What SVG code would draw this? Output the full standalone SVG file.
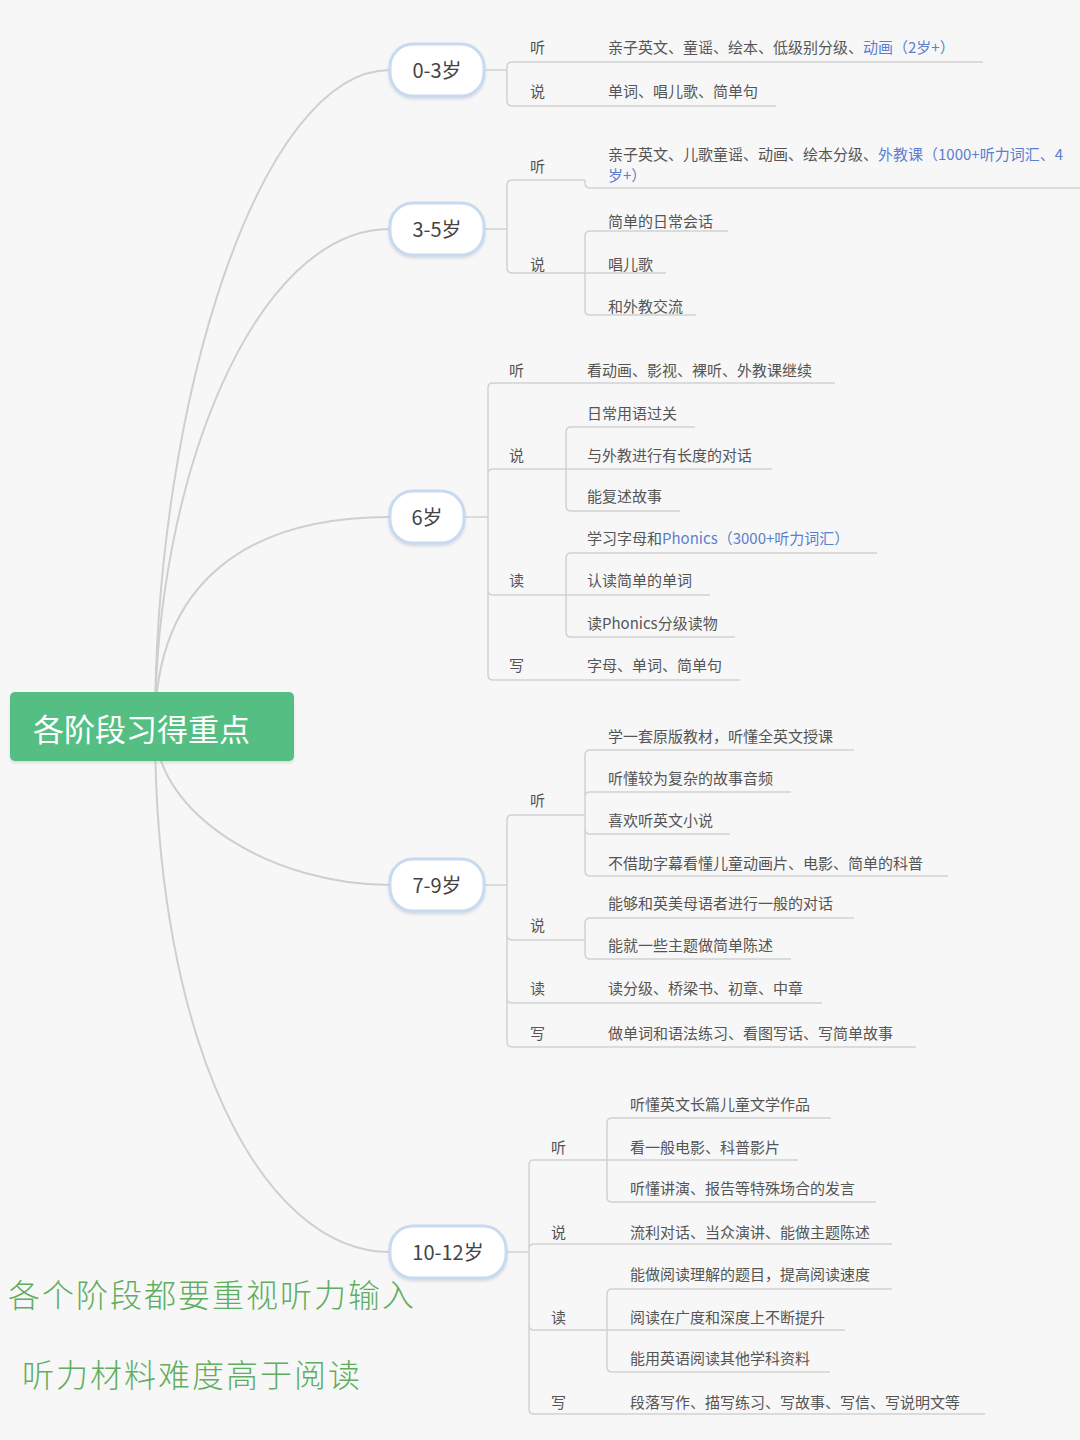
<svg xmlns="http://www.w3.org/2000/svg" width="1080" height="1440" viewBox="0 0 1080 1440">
<style>
text{font-family:"Noto Sans CJK SC","Noto Sans",sans-serif;dominant-baseline:central}
.t{font-size:15px;fill:#555}
.b{fill:#5a7fd0}
.age{font-size:20px;fill:#444;text-anchor:middle}
.root{font-size:31px;fill:#fff}
.hand{font-size:32px;fill:#5fae5f;letter-spacing:2px;font-weight:300}
.box{fill:#fff;stroke:#c8daf0;stroke-width:3}
.c1{fill:none;stroke:#cfcfcf;stroke-width:2}
.c2{fill:none;stroke:#d2d2d2;stroke-width:1.5}
</style>
<defs>
<filter id="sh" x="-20%" y="-20%" width="140%" height="150%">
<feDropShadow dx="0" dy="2" stdDeviation="1.5" flood-color="#9aa9bb" flood-opacity="0.35"/>
</filter>
</defs>
<rect width="1080" height="1440" fill="#f7f7f7"/>

<g id="connectors">
<path class="c1" d="M155,727 C155,398 261,70 390,70"/>
<path class="c1" d="M155,727 C155,478 255,229 390,229"/>
<path class="c1" d="M155,727 C155,580 250,517 390,517"/>
<path class="c1" d="M155,727 C155,814 272,885 390,885"/>
<path class="c1" d="M155,727 C155,1042 261,1252 390,1252"/>

<path class="c2" d="M484,70 H507 M507,70 V67 Q507,62 512,62 H585 M507,70 V101 Q507,106 512,106 H585"/>
<path class="c2" d="M585,62 H983 M585,106 H776"/>

<path class="c2" d="M484,229 H507 M507,229 V185 Q507,180 512,180 H585 M507,229 V268 Q507,273 512,273 H585"/>
<path class="c2" d="M585,180 V183 Q585,188 590,188 H1080 M585,273 V236 Q585,231 590,231 H728 M585,273 H666 M585,273 V310 Q585,315 590,315 H696"/>

<path class="c2" d="M464,517 H488 M488,517 V388 Q488,383 493,383 H566 M488,517 V474 Q488,469 493,469 H566 M488,517 V590 Q488,595 493,595 H566 M488,517 V675 Q488,680 493,680 H566"/>
<path class="c2" d="M566,383 H835 M566,469 V432 Q566,427 571,427 H695 M566,469 H772 M566,469 V506 Q566,511 571,511 H680 M566,595 V558 Q566,553 571,553 H877 M566,595 H710 M566,595 V632 Q566,637 571,637 H735 M566,680 H740"/>

<path class="c2" d="M484,885 H507 M507,885 V820 Q507,815 512,815 H585 M507,885 V935 Q507,940 512,940 H585 M507,885 V998 Q507,1003 512,1003 H585 M507,885 V1042 Q507,1047 512,1047 H585"/>
<path class="c2" d="M585,815 V755 Q585,750 590,750 H854 M585,815 V797 Q585,792 590,792 H791 M585,815 V829 Q585,834 590,834 H730 M585,815 V871 Q585,876 590,876 H948 M585,940 V923 Q585,918 590,918 H854 M585,940 V954 Q585,959 590,959 H791 M585,1003 H822 M585,1047 H916"/>

<path class="c2" d="M506,1252 H529 M529,1252 V1165 Q529,1160 534,1160 H607 M529,1252 V1249 Q529,1244 534,1244 H607 M529,1252 V1325 Q529,1330 534,1330 H607 M529,1252 V1409 Q529,1414 534,1414 H607"/>
<path class="c2" d="M607,1160 V1123 Q607,1118 612,1118 H831 M607,1160 H798 M607,1160 V1197 Q607,1202 612,1202 H876 M607,1244 H892 M607,1330 V1294 Q607,1289 612,1289 H892 M607,1330 H845 M607,1330 V1367 Q607,1372 612,1372 H830 M607,1414 H985"/>
</g>

<g id="root">
<rect x="10" y="692" width="284" height="69" rx="5" fill="#54bf83" filter="url(#sh)"/>
<text class="root" x="33" y="727">各阶段习得重点</text>
</g>

<g id="age-0-3">
<rect class="box" x="390" y="44" width="94" height="52" rx="23" filter="url(#sh)"/>
<text class="age" x="437" y="69">0-3岁</text>
</g>
<g id="age-0-3-listen"><text class="t" x="530" y="46">听</text></g>
<g id="age-0-3-listen-1"><text class="t" x="608" y="46">亲子英文、童谣、绘本、低级别分级、<tspan class="b">动画（2岁+）</tspan></text></g>
<g id="age-0-3-speak"><text class="t" x="530" y="90">说</text></g>
<g id="age-0-3-speak-1"><text class="t" x="608" y="90">单词、唱儿歌、简单句</text></g>

<g id="age-3-5">
<rect class="box" x="390" y="203" width="94" height="52" rx="23" filter="url(#sh)"/>
<text class="age" x="437" y="228">3-5岁</text>
</g>
<g id="age-3-5-listen"><text class="t" x="530" y="165">听</text></g>
<g id="age-3-5-listen-1">
<text class="t" x="608" y="153">亲子英文、儿歌童谣、动画、绘本分级、<tspan class="b">外教课（1000+听力词汇、4</tspan></text>
<text class="t b" x="608" y="174">岁+）</text>
</g>
<g id="age-3-5-speak"><text class="t" x="530" y="263">说</text></g>
<g id="age-3-5-speak-1"><text class="t" x="608" y="220">简单的日常会话</text></g>
<g id="age-3-5-speak-2"><text class="t" x="608" y="263">唱儿歌</text></g>
<g id="age-3-5-speak-3"><text class="t" x="608" y="305">和外教交流</text></g>

<g id="age-6">
<rect class="box" x="390" y="491" width="74" height="52" rx="23" filter="url(#sh)"/>
<text class="age" x="427" y="516">6岁</text>
</g>
<g id="age-6-listen"><text class="t" x="509" y="369">听</text></g>
<g id="age-6-listen-1"><text class="t" x="587" y="369">看动画、影视、裸听、外教课继续</text></g>
<g id="age-6-speak"><text class="t" x="509" y="454">说</text></g>
<g id="age-6-speak-1"><text class="t" x="587" y="412">日常用语过关</text></g>
<g id="age-6-speak-2"><text class="t" x="587" y="454">与外教进行有长度的对话</text></g>
<g id="age-6-speak-3"><text class="t" x="587" y="495">能复述故事</text></g>
<g id="age-6-read"><text class="t" x="509" y="579">读</text></g>
<g id="age-6-read-1"><text class="t" x="587" y="537">学习字母和<tspan class="b">Phonics（3000+听力词汇）</tspan></text></g>
<g id="age-6-read-2"><text class="t" x="587" y="579">认读简单的单词</text></g>
<g id="age-6-read-3"><text class="t" x="587" y="622">读Phonics分级读物</text></g>
<g id="age-6-write"><text class="t" x="509" y="664">写</text></g>
<g id="age-6-write-1"><text class="t" x="587" y="664">字母、单词、简单句</text></g>

<g id="age-7-9">
<rect class="box" x="390" y="859" width="94" height="52" rx="23" filter="url(#sh)"/>
<text class="age" x="437" y="884">7-9岁</text>
</g>
<g id="age-7-9-listen"><text class="t" x="530" y="799">听</text></g>
<g id="age-7-9-listen-1"><text class="t" x="608" y="735">学一套原版教材，听懂全英文授课</text></g>
<g id="age-7-9-listen-2"><text class="t" x="608" y="777">听懂较为复杂的故事音频</text></g>
<g id="age-7-9-listen-3"><text class="t" x="608" y="819">喜欢听英文小说</text></g>
<g id="age-7-9-listen-4"><text class="t" x="608" y="862">不借助字幕看懂儿童动画片、电影、简单的科普</text></g>
<g id="age-7-9-speak"><text class="t" x="530" y="924">说</text></g>
<g id="age-7-9-speak-1"><text class="t" x="608" y="902">能够和英美母语者进行一般的对话</text></g>
<g id="age-7-9-speak-2"><text class="t" x="608" y="944">能就一些主题做简单陈述</text></g>
<g id="age-7-9-read"><text class="t" x="530" y="987">读</text></g>
<g id="age-7-9-read-1"><text class="t" x="608" y="987">读分级、桥梁书、初章、中章</text></g>
<g id="age-7-9-write"><text class="t" x="530" y="1032">写</text></g>
<g id="age-7-9-write-1"><text class="t" x="608" y="1032">做单词和语法练习、看图写话、写简单故事</text></g>

<g id="age-10-12">
<rect class="box" x="390" y="1226" width="116" height="52" rx="23" filter="url(#sh)"/>
<text class="age" x="448" y="1251">10-12岁</text>
</g>
<g id="age-10-12-listen"><text class="t" x="551" y="1146">听</text></g>
<g id="age-10-12-listen-1"><text class="t" x="630" y="1103">听懂英文长篇儿童文学作品</text></g>
<g id="age-10-12-listen-2"><text class="t" x="630" y="1146">看一般电影、科普影片</text></g>
<g id="age-10-12-listen-3"><text class="t" x="630" y="1187">听懂讲演、报告等特殊场合的发言</text></g>
<g id="age-10-12-speak"><text class="t" x="551" y="1231">说</text></g>
<g id="age-10-12-speak-1"><text class="t" x="630" y="1231">流利对话、当众演讲、能做主题陈述</text></g>
<g id="age-10-12-read"><text class="t" x="551" y="1316">读</text></g>
<g id="age-10-12-read-1"><text class="t" x="630" y="1273">能做阅读理解的题目，提高阅读速度</text></g>
<g id="age-10-12-read-2"><text class="t" x="630" y="1316">阅读在广度和深度上不断提升</text></g>
<g id="age-10-12-read-3"><text class="t" x="630" y="1357">能用英语阅读其他学科资料</text></g>
<g id="age-10-12-write"><text class="t" x="551" y="1401">写</text></g>
<g id="age-10-12-write-1"><text class="t" x="630" y="1401">段落写作、描写练习、写故事、写信、写说明文等</text></g>

<g id="note">
<text class="hand" x="8" y="1293">各个阶段都要重视听力输入</text>
<text class="hand" x="22" y="1373">听力材料难度高于阅读</text>
</g>
</svg>
